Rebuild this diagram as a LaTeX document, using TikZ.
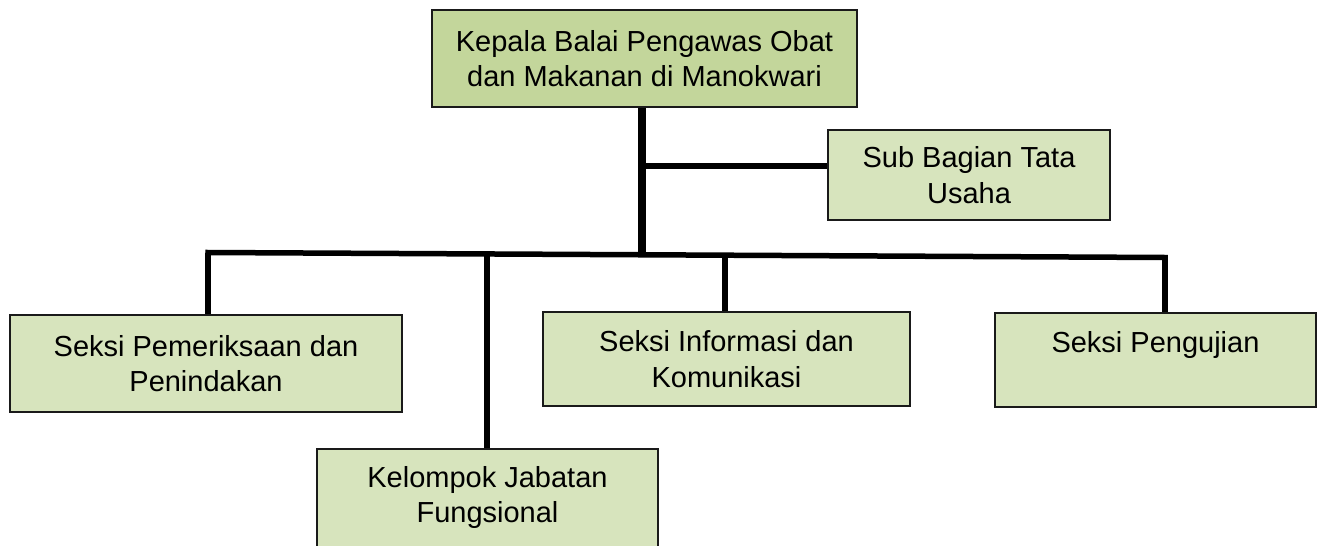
\documentclass[tikz,border=0pt]{standalone}
\usepackage{fontspec}
\setmainfont{Liberation Sans}
\definecolor{topfill}{HTML}{C3D69B}
\definecolor{boxfill}{HTML}{D7E4BD}
\definecolor{edge}{HTML}{1A1A1A}
\tikzset{
  orgbox/.style={draw=edge, line width=1.6pt, fill=boxfill, rectangle, inner sep=0pt, align=center,
     font=\fontsize{29}{35.5}\selectfont},
  topbox/.style={orgbox, fill=topfill, line width=2.4pt},
  link/.style={line width=5.5pt, black},
  trunk/.style={line width=7.5pt, black}
}
\begin{document}
\begin{tikzpicture}[x=1pt,y=-1pt]
\clip (0,0) rectangle (1320,546);
\fill[white] (0,0) rectangle (1320,546);
\node[topbox, minimum width=425pt, minimum height=97pt] (kepala) at (644.5,58.5) {Kepala Balai Pengawas Obat\\dan Makanan di Manokwari};
\node[orgbox, minimum width=282pt, minimum height=90pt] (tu) at (969,175) {Sub Bagian Tata\\Usaha};
\node[orgbox, minimum width=392pt, minimum height=97pt] (pem) at (206,363.5) {Seksi Pemeriksaan dan\\Penindakan};
\node[orgbox, minimum width=367pt, minimum height=94pt] (info) at (726.5,359) {Seksi Informasi dan\\Komunikasi};
\node[orgbox, minimum width=321pt, minimum height=94pt] (uji) at (1155.5,360) {Seksi Pengujian\\\mbox{}};
\node[orgbox, minimum width=341pt, minimum height=110pt, anchor=north] (kel) at (487.5,448) {Kelompok Jabatan\\Fungsional\\[-16.5pt]\mbox{}};
\coordinate (j1) at (642,166);
\coordinate (j2) at (642,255);
\coordinate (hl) at (208,252.5);
\coordinate (hr) at (1165,257.5);
\coordinate (dk) at (487,254);
\coordinate (di) at (725,255.5);
\draw[trunk] (kepala.south -| j2) -- (j2);
\draw[link] (j1) -- (tu.west |- j1);
\draw[link, line cap=rect] (hl) -- (hr);
\draw[link] (hl) -- (pem.north -| hl);
\draw[link] (dk) -- (kel.north -| dk);
\draw[link] (di) -- (info.north -| di);
\draw[link] (hr) -- (uji.north -| hr);
\end{tikzpicture}
\end{document}
